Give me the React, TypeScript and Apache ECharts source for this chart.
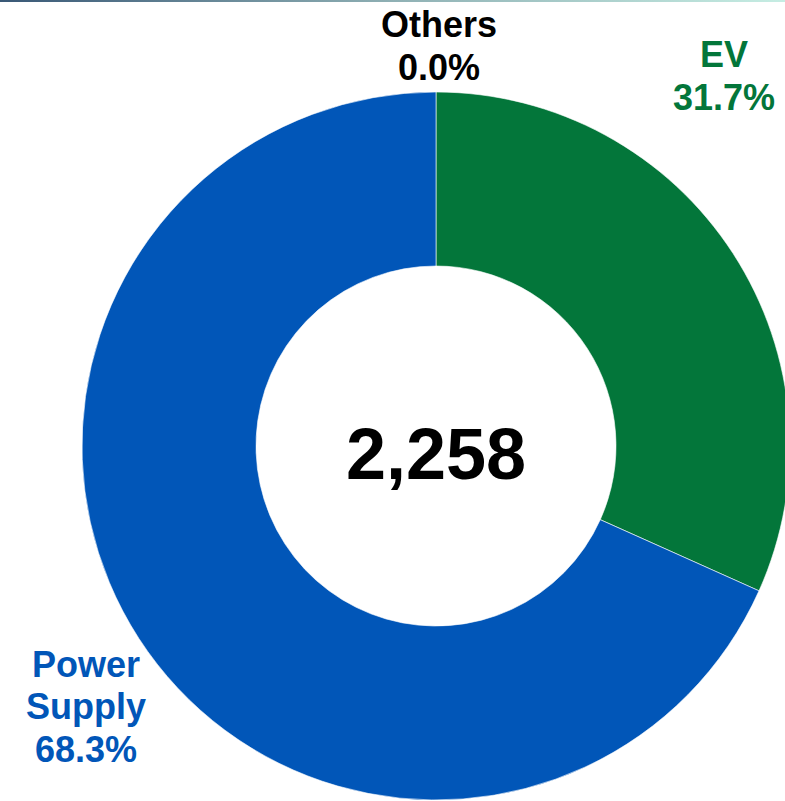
import React, { useEffect, useRef } from "react";
import * as echarts from "echarts";

const categories = ["Others", "EV", "Power Supply"];
const values = [0, 716, 1542];
const colors = ["#9aa3ad", "#03763A", "#0156B8"];
const labelColors = ["#000000", "#03763A", "#0156B8"];

const FONT = '"Liberation Sans", Arial, Helvetica, sans-serif';

export default function App() {
  const ref = useRef<HTMLDivElement>(null);

  useEffect(() => {
    if (!ref.current) return;
    const chart = echarts.init(ref.current, undefined, { renderer: "svg" });
    const total = values.reduce((a, b) => a + b, 0);
    const labelPos = [
      { x: 439, y: 3, lh: 43 },
      { x: 724, y: 33, lh: 43 },
      { x: 86, y: 643, lh: 42.5 },
    ];

    chart.setOption({
      animation: false,
      backgroundColor: "#ffffff",
      graphic: [
        {
          type: "rect",
          shape: { x: 0, y: 0, width: 785, height: 2 },
          style: {
            fill: new echarts.graphic.LinearGradient(0, 0, 1, 0, [
              { offset: 0, color: "#395876" },
              { offset: 0.5, color: "#8fb0b4" },
              { offset: 1, color: "#c6ede3" },
            ]),
          },
          silent: true,
        },
        {
          type: "text",
          x: 436,
          y: 454,
          style: {
            text: total.toLocaleString("en-US"),
            font: `bold 72px ${FONT}`,
            fill: "#000000",
            textAlign: "center",
            textVerticalAlign: "middle",
          },
        },
      ],
      series: [
        {
          type: "pie",
          center: [436, 446],
          radius: [180, 354],
          startAngle: 90,
          clockwise: true,
          percentPrecision: 1,
          avoidLabelOverlap: false,
          itemStyle: { borderColor: "#ffffff", borderWidth: 0.6 },
          emphasis: { disabled: true },
          labelLine: { show: false },
          label: {
            show: true,
            fontFamily: FONT,
            fontWeight: "bold",
            fontSize: 36,
            formatter: (p: any) =>
              `${String(p.name).replace(" ", "\n")}\n${Number(p.percent).toFixed(1)}%`,
          },
          labelLayout: (params: any) => {
            const lp = labelPos[params.dataIndex];
            return {
              x: lp.x,
              y: lp.y,
              align: "center",
              verticalAlign: "top",
              hideOverlap: false,
            };
          },
          data: categories.map((name, i) => ({
            name,
            value: values[i],
            itemStyle: { color: colors[i] },
            label: {
              color: labelColors[i],
              lineHeight: labelPos[i].lh,
            },
          })),
        },
      ],
    });

    return () => chart.dispose();
  }, []);

  return (
    <div
      ref={ref}
      style={{ position: "absolute", left: 0, top: 0, width: 785, height: 801 }}
    />
  );
}
